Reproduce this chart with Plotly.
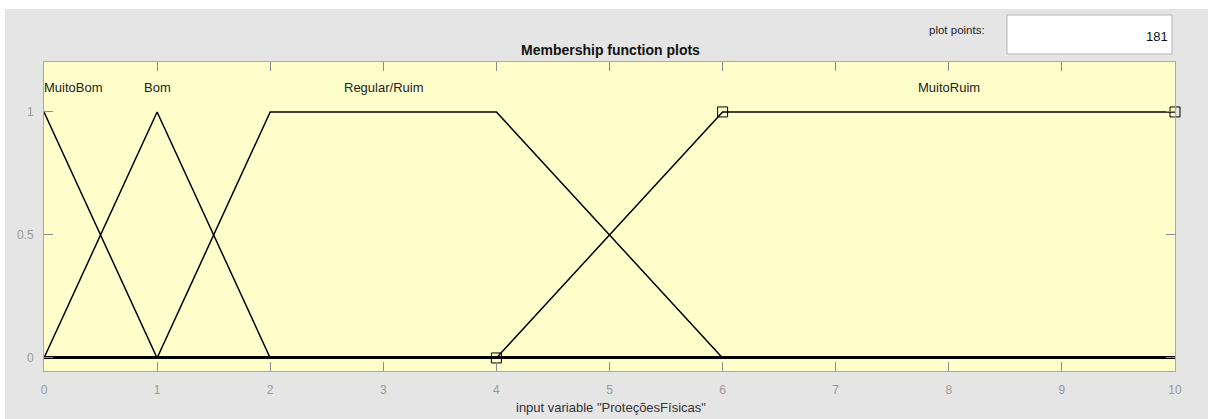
import plotly.graph_objects as go

# Membership functions of the input variable (universe 0..10)
mf_names = ["MuitoBom", "Bom", "Regular/Ruim", "MuitoRuim"]
mf_x = [
    [0, 1, 10],
    [0, 1, 2, 10],
    [0, 1, 2, 4, 6, 10],
    [0, 4, 6, 10],
]
mf_y = [
    [1, 0, 0],
    [0, 1, 0, 0],
    [0, 0, 1, 1, 0, 0],
    [0, 0, 1, 1],
]
# label position (x) for each function name
label_x = [0, 1, 3, 8]
label_anchor = ["left", "center", "center", "center"]

# break points of the selected function (MuitoRuim)
sel_x = [4, 6, 10]
sel_y = [0, 1, 1]

x_ticks = list(range(0, 11))
y_ticks = [0, 0.5, 1]
plot_points = 181

W, H = 1208, 419
L, R, T, B = 44, 33, 62, 48
pw, ph = W - L - R, H - T - B


def px(xp):
    return (xp - L) / pw


def py(yp):
    return (H - B - yp) / ph


fig = go.Figure()
for xs, ys, name in zip(mf_x, mf_y, mf_names):
    fig.add_trace(go.Scatter(x=xs, y=ys, mode="lines", name=name,
                             line=dict(color="black", width=1.5),
                             hoverinfo="skip", showlegend=False))

fig.add_trace(go.Scatter(x=sel_x, y=sel_y, mode="markers", showlegend=False,
                         marker=dict(symbol="square-open", size=10,
                                     color="black", line=dict(width=1)),
                         cliponaxis=False, hoverinfo="skip"))

font = "Liberation Sans, Arial, Helvetica, sans-serif"
annotations = []
for name, lx, anc in zip(mf_names, label_x, label_anchor):
    annotations.append(dict(x=lx, y=1.1, xref="x", yref="y", text=name,
                            showarrow=False, xanchor=anc, yanchor="middle",
                            xshift=-2 if anc == "left" else 0,
                            font=dict(family=font, size=13, color="#222")))

annotations += [
    dict(x=px(610), y=py(50), xref="paper", yref="paper",
         text="<b>Membership function plots</b>", showarrow=False,
         xanchor="center", yanchor="middle",
         font=dict(family=font, size=14, color="#111")),
    dict(x=px(957), y=py(30), xref="paper", yref="paper",
         text="plot points:", showarrow=False, xanchor="center", yanchor="middle",
         font=dict(family=font, size=11.5, color="#222")),
    dict(x=px(1170), y=py(37), xref="paper", yref="paper",
         text=str(plot_points), showarrow=False, xanchor="right", yanchor="middle",
         font=dict(family=font, size=13, color="#111")),
    dict(x=px(611), y=py(407), xref="paper", yref="paper",
         text='input variable "ProteçõesFísicas"', showarrow=False,
         xanchor="center", yanchor="middle",
         font=dict(family=font, size=13, color="#333")),
]

shapes = [
    # white strips around the gray panel
    dict(type="rect", xref="paper", yref="paper", x0=px(0), x1=px(W),
         y0=py(9), y1=py(0), fillcolor="white", line_width=0, layer="below"),
    dict(type="rect", xref="paper", yref="paper", x0=px(0), x1=px(5),
         y0=py(H), y1=py(0), fillcolor="white", line_width=0, layer="below"),
    # plot points input box
    dict(type="rect", xref="paper", yref="paper", x0=px(1007), x1=px(1172),
         y0=py(54), y1=py(15), fillcolor="white",
         line=dict(color="#b4b4b4", width=1)),
]

axis_common = dict(showgrid=False, ticks="inside", ticklen=9, tickwidth=1,
                   tickcolor="#8c8c8c", showline=True, linecolor="#a8a8a8",
                   linewidth=1, mirror="ticks",
                   tickfont=dict(family=font, size=12, color="#9a9a9a"))

fig.update_layout(
    width=W, height=H,
    margin=dict(l=L, r=R, t=T, b=B),
    paper_bgcolor="#e5e5e5", plot_bgcolor="#ffffcc",
    xaxis=dict(range=[0, 10], tickvals=x_ticks, zeroline=False,
               ticklabelstandoff=8, **axis_common),
    yaxis=dict(range=[-0.053, 1.203], tickvals=y_ticks, ticktext=["0", "0.5", "1"],
               zeroline=True, zerolinecolor="black", zerolinewidth=3,
               ticklabelstandoff=7, **axis_common),
    annotations=annotations, shapes=shapes,
)

fig.write_html("out.html")
